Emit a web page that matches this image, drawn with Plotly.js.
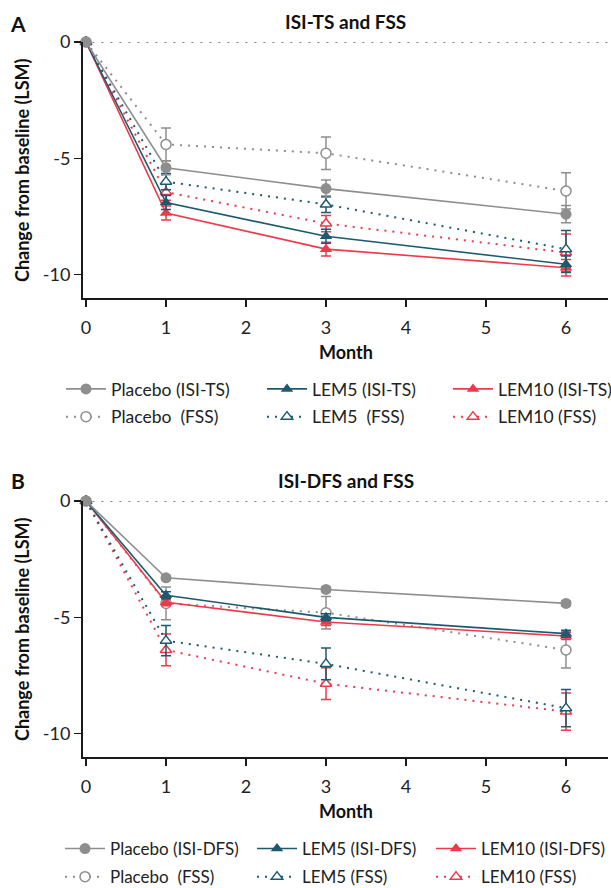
<!DOCTYPE html>
<html>
<head>
<meta charset="utf-8">
<script src="https://cdn.plot.ly/plotly-3.0.1.min.js"></script>
<style>html,body{margin:0;padding:0;background:#fff;}#chart{width:611px;height:888px;}</style>
</head>
<body>
<div id="chart"></div>
<script>
// ---------- DATA ----------
const months = [0, 1, 3, 6];
const monthTicks = [0, 1, 2, 3, 4, 5, 6];
const yTickVals = [0, -5, -10];
const yTickText = ['0', '-5', '-10'];

// Panel A: ISI-TS and FSS
const titleA = 'ISI-TS and FSS';
const namesA = ['Placebo (ISI-TS)', 'LEM5 (ISI-TS)', 'LEM10 (ISI-TS)', 'Placebo  (FSS)', 'LEM5  (FSS)', 'LEM10 (FSS)'];
const placeboIsiTs = [0, -5.4, -6.3, -7.4];
const placeboIsiTsErr = [0, 0.3, 0.37, 0.37];
const lem5IsiTs = [0, -6.9, -8.35, -9.55];
const lem5IsiTsErr = [0, 0.3, 0.3, 0.35];
const lem10IsiTs = [0, -7.35, -8.9, -9.7];
const lem10IsiTsErr = [0, 0.3, 0.3, 0.35];
const placeboFssA = [0, -4.4, -4.78, -6.4];
const placeboFssAErr = [0, 0.7, 0.7, 0.78];
const lem5FssA = [0, -6.0, -6.98, -8.9];
const lem5FssAErr = [0, 0.35, 0.35, 0.8];
const lem10FssA = [0, -6.45, -7.8, -9.05];
const lem10FssAErr = [0, 0.35, 0.35, 0.8];

// Panel B: ISI-DFS and FSS
const titleB = 'ISI-DFS and FSS';
const namesB = ['Placebo (ISI-DFS)', 'LEM5 (ISI-DFS)', 'LEM10 (ISI-DFS)', 'Placebo  (FSS)', 'LEM5 (FSS)', 'LEM10 (FSS)'];
const placeboIsiDfs = [0, -3.3, -3.8, -4.4];
const placeboIsiDfsErr = [0, 0.1, 0.1, 0.1];
const lem5IsiDfs = [0, -4.05, -5.0, -5.7];
const lem5IsiDfsErr = [0, 0.15, 0.15, 0.15];
const lem10IsiDfs = [0, -4.35, -5.2, -5.8];
const lem10IsiDfsErr = [0, 0.15, 0.15, 0.15];
const placeboFssB = [0, -4.4, -4.8, -6.4];
const placeboFssBErr = [0, 0.7, 0.7, 0.78];
const lem5FssB = [0, -6.0, -7.0, -8.9];
const lem5FssBErr = [0, 0.65, 0.68, 0.8];
const lem10FssB = [0, -6.4, -7.85, -9.05];
const lem10FssBErr = [0, 0.68, 0.68, 0.8];

// ---------- STYLE ----------
const GREY = '#8e8e8e', TEAL = '#1d5a70', RED = '#ec3a4b';
const FONT = 'Lato, "Liberation Sans", Arial, sans-serif';
const H = 888, W = 611, ML = 83, MR = 3;
const py = p => 1 - p / H;              // pixel y -> paper fraction
const px = p => (p - ML) / (W - ML - MR); // pixel x -> paper fraction

function trace(y, err, name, color, solid, symbol, legend, xa, ya) {
  return {
    type: 'scatter', mode: 'lines+markers', x: months, y: y, name: name,
    xaxis: xa, yaxis: ya, legend: legend, legendgroup: legend + name,
    legendrank: solid ? 1 : 2,
    cliponaxis: false,
    line: solid ? {color: color, width: 1.6} : {color: color, width: 2, dash: '2px,6px'},
    marker: solid ? {symbol: symbol, size: 11, color: color}
                  : {symbol: symbol, size: 10, color: 'white', line: {color: color, width: 1.5}},
    error_y: {type: 'data', array: err, visible: true, color: color, thickness: 1.5, width: 5}
  };
}

const traces = [
  // Panel A
  trace(placeboFssA, placeboFssAErr, namesA[3], GREY, false, 'circle', 'legend', 'x', 'y'),
  trace(lem10FssA, lem10FssAErr, namesA[5], RED, false, 'triangle-up', 'legend3', 'x', 'y'),
  trace(lem5FssA, lem5FssAErr, namesA[4], TEAL, false, 'triangle-up', 'legend2', 'x', 'y'),
  trace(lem10IsiTs, lem10IsiTsErr, namesA[2], RED, true, 'triangle-up', 'legend3', 'x', 'y'),
  trace(lem5IsiTs, lem5IsiTsErr, namesA[1], TEAL, true, 'triangle-up', 'legend2', 'x', 'y'),
  trace(placeboIsiTs, placeboIsiTsErr, namesA[0], GREY, true, 'circle', 'legend', 'x', 'y'),
  // Panel B
  trace(placeboFssB, placeboFssBErr, namesB[3], GREY, false, 'circle', 'legend4', 'x2', 'y2'),
  trace(lem10FssB, lem10FssBErr, namesB[5], RED, false, 'triangle-up', 'legend6', 'x2', 'y2'),
  trace(lem5FssB, lem5FssBErr, namesB[4], TEAL, false, 'triangle-up', 'legend5', 'x2', 'y2'),
  trace(lem10IsiDfs, lem10IsiDfsErr, namesB[2], RED, true, 'triangle-up', 'legend6', 'x2', 'y2'),
  trace(lem5IsiDfs, lem5IsiDfsErr, namesB[1], TEAL, true, 'triangle-up', 'legend5', 'x2', 'y2'),
  trace(placeboIsiDfs, placeboIsiDfsErr, namesB[0], GREY, true, 'circle', 'legend4', 'x2', 'y2')
];

const xBase = {
  range: [-0.0375, 6.525], tickvals: monthTicks, showgrid: false, zeroline: false,
  showline: true, linecolor: '#1a1a1a', linewidth: 2, ticks: 'outside', ticklen: 7,
  tickwidth: 1.5, tickcolor: '#1a1a1a', ticklabelstandoff: 5, automargin: false,
  tickfont: {family: FONT, size: 18, color: '#222'}
};
const yBase = {
  range: [-11, 0], tickvals: yTickVals, ticktext: yTickText, showgrid: false, zeroline: false,
  showline: true, linecolor: '#1a1a1a', linewidth: 2, ticks: 'outside', ticklen: 7,
  tickwidth: 1.5, tickcolor: '#1a1a1a', automargin: false,
  tickfont: {family: FONT, size: 18, color: '#222'}
};

function legendAt(xPix, yPix, size) {
  return {
    x: px(xPix), y: py(yPix), xanchor: 'left', yanchor: 'top', orientation: 'v',
    traceorder: 'grouped', tracegroupgap: size < 17.5 ? 3 : 2, itemwidth: 40,
    font: {family: FONT, size: size, color: '#222'}, bgcolor: 'rgba(0,0,0,0)'
  };
}

const ann = (text, xp, yp, size, opts) => Object.assign({
  text: text, xref: 'paper', yref: 'paper', x: xp, y: yp, showarrow: false,
  xanchor: 'center', yanchor: 'middle', font: {family: FONT, size: size, color: '#111', weight: 'bold'}
}, opts || {});

const layout = {
  width: W, height: H, margin: {l: ML, r: MR, t: 0, b: 0, autoexpand: false},
  paper_bgcolor: '#fff', plot_bgcolor: '#fff', showlegend: true,
  font: {family: FONT, color: '#222'},
  xaxis: Object.assign({}, xBase, {anchor: 'y', domain: [0, 1]}),
  yaxis: Object.assign({}, yBase, {anchor: 'x', domain: [py(298), py(42)]}),
  xaxis2: Object.assign({}, xBase, {anchor: 'y2', domain: [0, 1]}),
  yaxis2: Object.assign({}, yBase, {anchor: 'x2', domain: [py(757), py(501)]}),
  legend: legendAt(61, 371, 17.5),
  legend2: legendAt(262, 371, 17.5),
  legend3: legendAt(448, 371, 17.5),
  legend4: legendAt(60, 831, 17),
  legend5: legendAt(252, 831, 17),
  legend6: legendAt(431, 831, 17),
  shapes: [
    {type: 'line', xref: 'x', yref: 'y', x0: 0.08, x1: 6.525, y0: 0, y1: 0, layer: 'below',
     line: {color: '#555', width: 1.6, dash: '2px,7px'}},
    {type: 'line', xref: 'x2', yref: 'y2', x0: 0.08, x1: 6.525, y0: 0, y1: 0, layer: 'below',
     line: {color: '#555', width: 1.6, dash: '2px,7px'}}
  ],
  annotations: [
    ann('A', px(18), py(24), 21),
    ann(titleA, 0.5, py(22), 19),
    ann('Change from baseline (LSM)', px(22), py(170), 18, {textangle: -90}),
    ann('Month', 0.5, py(352), 18),
    ann('B', px(18), py(481), 21),
    ann(titleB, 0.5, py(481), 19),
    ann('Change from baseline (LSM)', px(22), py(629), 18, {textangle: -90}),
    ann('Month', 0.5, py(811), 18)
  ]
};

Plotly.newPlot('chart', traces, layout, {displayModeBar: false, staticPlot: true});
</script>
</body>
</html>
